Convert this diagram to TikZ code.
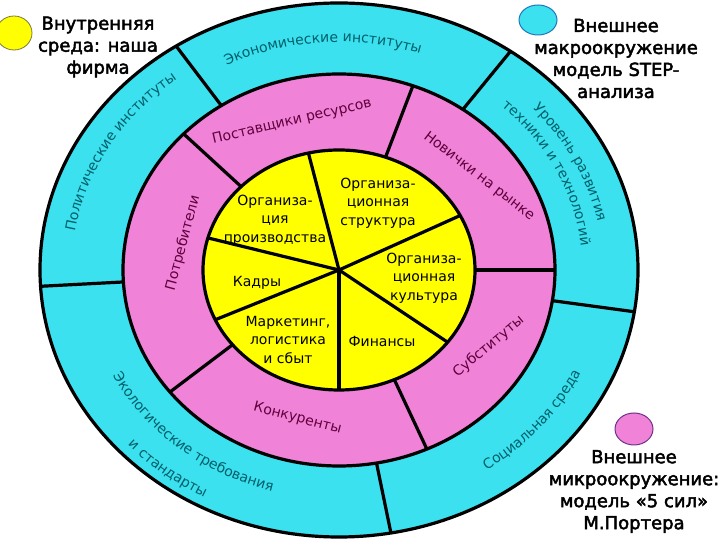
\documentclass[tikz,border=0pt]{standalone}
\usepackage{fontspec}
\setmainfont{DejaVu Sans}
\newfontfamily\legfont[FakeBold=2.5]{DejaVu Sans}
\usetikzlibrary{decorations.text}
\definecolor{cyanfill}{RGB}{60,225,240}
\definecolor{pinkfill}{RGB}{240,130,215}
\definecolor{yellowfill}{RGB}{255,255,0}
\definecolor{tealtext}{RGB}{0,95,105}
\definecolor{plumtext}{RGB}{95,0,60}
\definecolor{cyanedge}{RGB}{30,120,190}
\definecolor{pinkedge}{RGB}{110,50,140}
\definecolor{yellowedge}{RGB}{120,120,60}
% clockwise label: center angle, half span, x radius, y radius, text
\newcommand{\cwlabel}[5]{%
  \path[decorate,decoration={text along path,text align=center,
    text={|\fontsize{14}{16}\selectfont\color{tealtext}|#5}}]
    ({#1+#2}:{#3} and {#4}) arc[start angle={#1+#2},end angle={#1-#2},x radius=#3,y radius=#4];}
% counter-clockwise label
\newcommand{\ccwlabel}[5]{%
  \path[decorate,decoration={text along path,text align=center,
    text={|\fontsize{14}{16}\selectfont\color{tealtext}|#5}}]
    ({#1-#2}:{#3} and {#4}) arc[start angle={#1-#2},end angle={#1+#2},x radius=#3,y radius=#4];}
\begin{document}
\begin{tikzpicture}[x=1pt,y=1pt,
  ring/.style={draw=black,line width=3.2pt},
  sep/.style={draw=black,line width=3.2pt},
  innerlbl/.style={align=center,font=\fontsize{14}{18.5}\selectfont,text=black,inner sep=0pt},
  pinklbl/.style={font=\fontsize{14}{16}\selectfont,text=plumtext,inner sep=0pt},
  legendtext/.style={align=center,font=\legfont\fontsize{18}{22}\selectfont,text=black,inner sep=0pt}]
\useasboundingbox (0,0) rectangle (720,540);
\fill[white] (0,0) rectangle (720,540);
\begin{scope}[shift={(339,270)}]
  \fill[cyanfill] (0,0) ellipse[x radius=299,y radius=267];
  \fill[pinkfill] (0,0) ellipse[x radius=216,y radius=196];
  \fill[yellowfill] (0,0) ellipse[x radius=136,y radius=120];
  \foreach \t in {123,55,-9,-80,183.5}
    \draw[sep] (\t:216 and 196) -- (\t:299 and 267);
  \foreach \t in {136,70,0,-66,218.5}
    \draw[sep] (\t:136 and 120) -- (\t:216 and 196);
  \foreach \t in {103,27,-37,-90,204.5,164.5}
    \draw[sep] (0,0) -- (\t:136 and 120);
  \draw[ring] (0,0) ellipse[x radius=299,y radius=267];
  \draw[ring] (0,0) ellipse[x radius=216,y radius=196];
  \draw[ring] (0,0) ellipse[x radius=136,y radius=120];
  \cwlabel{94}{50}{253.4}{228}{Экономические институты}
  \cwlabel{150}{45}{267.5}{240}{Политические институты}
  \cwlabel{26.5}{38}{264.1}{237.2}{Уровень развития}
  \cwlabel{26.5}{40}{243.4}{219.4}{техники и технологий}
  \ccwlabel{-40}{38}{267.5}{240}{Социальная среда}
  \ccwlabel{230}{48}{255}{229.5}{Экологические требования}
  \ccwlabel{231}{45}{288}{257.5}{и стандарты}
\end{scope}
% pink ring labels
\node[pinklbl,rotate=13] (postav) at (292,418.5) {Поставщики ресурсов};
\node[pinklbl,rotate=-37.5] (novich) at (479,363.5) {Новички на рынке};
\node[pinklbl,rotate=40] (subst) at (488.5,193.5) {Субституты};
\node[pinklbl,rotate=-14.5] (konk) at (297.5,121.5) {Конкуренты};
\node[pinklbl,rotate=75] (potreb) at (183,297) {Потребители};
% inner labels
\node[innerlbl] (orgprod) at (275,320) {Организа-\\ция\\производства};
\node[innerlbl] (orgstr) at (378,337) {Организа-\\ционная\\структура};
\node[innerlbl] (orgcult) at (424,262) {Организа-\\ционная\\культура};
\node[innerlbl] (kadry) at (257,257) {Кадры};
\node[innerlbl] (market) at (288,200) {Маркетинг,\\логистика\\и сбыт};
\node[innerlbl] (finance) at (382,198) {Финансы};
% legend
\draw[fill=yellowfill,draw=yellowedge,line width=0.8pt] (14,507) ellipse[x radius=18,y radius=17];
\node[legendtext] (leginner) at (98,493) {Внутренняя\\среда: наша\\фирма};
\draw[fill=cyanfill,draw=cyanedge,line width=1pt] (538,520) ellipse[x radius=19,y radius=15];
\node[legendtext] (legmacro) at (616,481.5) {Внешнее\\макроокружение\\модель STEP-\\анализа};
\draw[fill=pinkfill,draw=pinkedge,line width=1pt] (634,111) ellipse[x radius=19,y radius=16];
\node[legendtext] (legmicro) at (634,48.5) {Внешнее\\микроокружение:\\модель «5 сил»\\М.Портера};
\end{tikzpicture}
\end{document}
